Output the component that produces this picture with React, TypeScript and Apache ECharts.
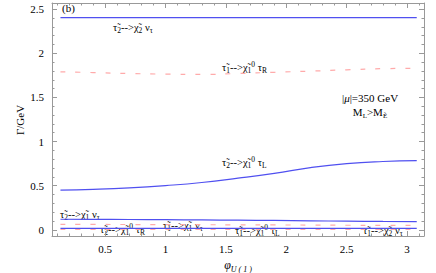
import React, { useEffect, useRef } from "react";
import * as echarts from "echarts";

const F = "'Liberation Serif', 'DejaVu Serif', serif";

const phi = [0.13, 0.4, 0.7, 1.0, 1.3, 1.6, 1.9, 2.2, 2.5, 2.8, 3.08];
const tau2Chi2Nu = [2.405, 2.405, 2.405, 2.405, 2.405, 2.405, 2.405, 2.405, 2.405, 2.405, 2.405];
const tau1Chi10TauR = [1.79, 1.782, 1.771, 1.764, 1.761, 1.771, 1.785, 1.798, 1.813, 1.826, 1.83];
const tau2Chi10TauL = [0.449, 0.458, 0.475, 0.501, 0.536, 0.585, 0.64, 0.705, 0.75, 0.774, 0.784];
const tau2Chi1Nu = [0.12, 0.119, 0.117, 0.115, 0.112, 0.109, 0.106, 0.102, 0.098, 0.095, 0.093];
const tau1Chi1Nu = [0.062, 0.061, 0.06, 0.059, 0.058, 0.056, 0.055, 0.054, 0.052, 0.051, 0.05];
const tau2Chi10TauR = [0.016, 0.016, 0.016, 0.016, 0.016, 0.016, 0.016, 0.016, 0.016, 0.016, 0.016];
const tau1Chi10TauL = [0.004, 0.004, 0.004, 0.004, 0.004, 0.004, 0.004, 0.004, 0.004, 0.004, 0.004];

const xMajor = [0.5, 1, 1.5, 2, 2.5, 3];
const xMinor = [0.1, 0.2, 0.3, 0.4, 0.6, 0.7, 0.8, 0.9, 1.1, 1.2, 1.3, 1.4, 1.6, 1.7, 1.8, 1.9, 2.1, 2.2, 2.3, 2.4, 2.6, 2.7, 2.8, 2.9, 3.1];
const yMajor = [0, 0.5, 1, 1.5, 2, 2.5];
const yMinor = [0.1, 0.2, 0.3, 0.4, 0.6, 0.7, 0.8, 0.9, 1.1, 1.2, 1.3, 1.4, 1.6, 1.7, 1.8, 1.9, 2.1, 2.2, 2.3, 2.4];

const BLUE = "#5050f0";
const PINK = "#ffaaaa";
const FRAME = "#999999";

const rich = {
  m: { fontSize: 10.5, fontFamily: F, lineHeight: 14, color: "#000" },
  s: { fontSize: 7.5, fontFamily: F, verticalAlign: "bottom", color: "#000" },
  u: { fontSize: 7.5, fontFamily: F, verticalAlign: "top", color: "#000" },
  i: { fontSize: 11, fontFamily: F, fontStyle: "italic", lineHeight: 14, color: "#000" },
  n: { fontSize: 11, fontFamily: F, lineHeight: 14, color: "#000" },
  ns: { fontSize: 7, fontFamily: F, verticalAlign: "bottom", color: "#000" },
  xi: { fontSize: 12, fontFamily: F, fontStyle: "italic", lineHeight: 16, color: "#000" },
  xs: { fontSize: 8, fontFamily: F, fontStyle: "italic", verticalAlign: "bottom", color: "#000" },
};

const T = "\u03c4\u0303";
const C = "\u03c7\u0303";

const labels = [
  { x: 113, y: 27, t: `{m|${T}}{s|2}{m|-->${C}}{s|2}{m| \u03bd}{s|\u03c4}` },
  { x: 222, y: 67, t: `{m|${T}}{s|1}{m|-->${C}}{s|1}{u|0}{m| \u03c4}{s|R}` },
  { x: 222, y: 162, t: `{m|${T}}{s|2}{m|-->${C}}{s|1}{u|0}{m| \u03c4}{s|L}` },
  { x: 60, y: 214, t: `{m|${T}}{s|2}{m|-->${C}}{s|1}{m| \u03bd}{s|\u03c4}` },
  { x: 100, y: 229, t: `{m|${T}}{s|2}{m|-->${C}}{s|1}{u|0}{m| \u03c4}{s|R}` },
  { x: 163, y: 225, t: `{m|${T}}{s|1}{m|-->${C}}{s|1}{m| \u03bd}{s|\u03c4}` },
  { x: 235, y: 230, t: `{m|${T}}{s|1}{m|-->${C}}{s|1}{u|0}{m| \u03c4}{s|L}` },
  { x: 363, y: 230, t: `{m|${T}}{s|1}{m|-->${C}}{s|2}{m| \u03bd}{s|\u03c4}` },
];

function mkX(position: string, ticks: number[], len: number, withLabel: boolean, line: boolean) {
  return {
    type: "value",
    min: 0.06,
    max: 3.14,
    position,
    axisLine: { show: line, onZero: false, lineStyle: { color: FRAME, width: 1 } },
    axisTick: { show: true, inside: true, length: len, customValues: ticks, lineStyle: { color: FRAME, width: 1 } },
    axisLabel: withLabel
      ? { show: true, customValues: ticks, fontFamily: F, fontSize: 11, color: "#000", margin: 7 }
      : { show: false },
    splitLine: { show: false },
  };
}
function mkY(position: string, ticks: number[], len: number, withLabel: boolean, line: boolean) {
  return {
    type: "value",
    min: -0.07,
    max: 2.57,
    position,
    axisLine: { show: line, onZero: false, lineStyle: { color: FRAME, width: 1 } },
    axisTick: { show: true, inside: true, length: len, customValues: ticks, lineStyle: { color: FRAME, width: 1 } },
    axisLabel: withLabel
      ? { show: true, customValues: ticks, fontFamily: F, fontSize: 11, color: "#000", margin: 8 }
      : { show: false },
    splitLine: { show: false },
  };
}

function line(data: number[], color: string, dashed: boolean) {
  return {
    type: "line",
    xAxisIndex: 0,
    yAxisIndex: 0,
    data: phi.map((p, i) => [p, data[i]]),
    smooth: true,
    showSymbol: false,
    silent: true,
    lineStyle: { color, width: 1.2, type: dashed ? [5, 10] : "solid" },
  };
}

export default function App() {
  const ref = useRef<HTMLDivElement>(null);
  useEffect(() => {
    if (!ref.current) return;
    const chart = echarts.init(ref.current, null, { renderer: "svg" });
    chart.setOption({
      animation: false,
      backgroundColor: "#fff",
      grid: { left: 52, right: 12, top: 3, bottom: 37, containLabel: false },
      xAxis: [
        mkX("bottom", xMajor, 5, true, true),
        mkX("bottom", xMinor, 2.5, false, false),
        mkX("top", xMajor, 5, false, true),
        mkX("top", xMinor, 2.5, false, false),
      ],
      yAxis: [
        mkY("left", yMajor, 5, true, true),
        mkY("left", yMinor, 2.5, false, false),
        mkY("right", yMajor, 5, false, true),
        mkY("right", yMinor, 2.5, false, false),
      ],
      series: [
        line(tau1Chi10TauR, PINK, true),
        line(tau1Chi1Nu, PINK, true),
        line(tau1Chi10TauL, PINK, true),
        line(tau2Chi2Nu, BLUE, false),
        line(tau2Chi10TauL, BLUE, false),
        line(tau2Chi1Nu, BLUE, false),
        line(tau2Chi10TauR, BLUE, false),
      ],
      graphic: [
        { type: "text", x: 62, y: 8, style: { text: "(b)", font: `11px ${F}`, fill: "#000", verticalAlign: "middle" } },
        ...labels.map((l) => ({
          type: "text",
          x: l.x,
          y: l.y,
          style: { text: l.t, rich, fill: "#000", align: "left", verticalAlign: "middle" },
        })),
        {
          type: "text",
          x: 370,
          y: 98,
          style: { text: "{n||}{i|\u03bc}{n||=350 GeV}", rich, align: "center", verticalAlign: "middle" },
        },
        {
          type: "text",
          x: 370,
          y: 112,
          style: { text: "{n|M}{ns|L}{n|>M}{ns|E\u0303}", rich, align: "center", verticalAlign: "middle" },
        },
        {
          type: "text",
          x: 20,
          y: 120,
          rotation: Math.PI / 2,
          style: { text: "\u0393/GeV", font: `11px ${F}`, fill: "#000", align: "center", verticalAlign: "middle" },
        },
        {
          type: "text",
          x: 238,
          y: 265,
          style: { text: "{xi|\u03c6}{xs|U ( 1 )}", rich, align: "center", verticalAlign: "middle" },
        },
      ],
    });
    return () => chart.dispose();
  }, []);
  return (
    <div
      ref={ref}
      style={{ position: "fixed", left: 0, top: 0, width: 436, height: 273 }}
    />
  );
}
